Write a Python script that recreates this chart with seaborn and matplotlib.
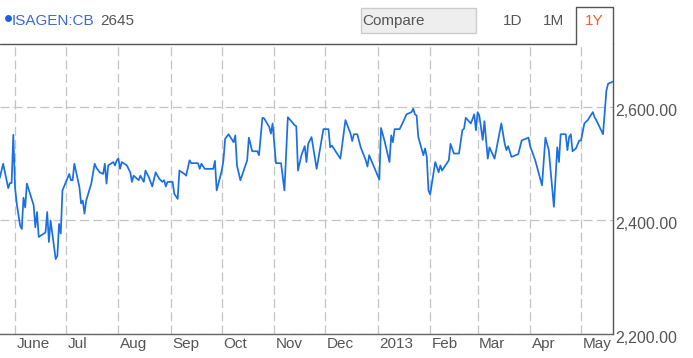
import matplotlib
matplotlib.use("Agg")
import matplotlib.pyplot as plt
from matplotlib.lines import Line2D
from matplotlib.patches import Rectangle
from matplotlib.transforms import ScaledTranslation
import seaborn as sns
import pandas as pd

# ---------------- data ----------------
dates = [
    "2012-05-23", "2012-05-25", "2012-05-28", "2012-05-29", "2012-05-30", "2012-05-31",
    "2012-06-01", "2012-06-02", "2012-06-04", "2012-06-05", "2012-06-06", "2012-06-07",
    "2012-06-08", "2012-06-12", "2012-06-13", "2012-06-14", "2012-06-15", "2012-06-19",
    "2012-06-20", "2012-06-21", "2012-06-22", "2012-06-23", "2012-06-25", "2012-06-26",
    "2012-06-27", "2012-06-28", "2012-06-29",
    "2012-07-03", "2012-07-04", "2012-07-05", "2012-07-06", "2012-07-09", "2012-07-10",
    "2012-07-11", "2012-07-12", "2012-07-13", "2012-07-16", "2012-07-18", "2012-07-19",
    "2012-07-21", "2012-07-23", "2012-07-24", "2012-07-25", "2012-07-26", "2012-07-29",
    "2012-07-30", "2012-07-31",
    "2012-08-01", "2012-08-02", "2012-08-03", "2012-08-06", "2012-08-08", "2012-08-09",
    "2012-08-10", "2012-08-13", "2012-08-14", "2012-08-16", "2012-08-17", "2012-08-19",
    "2012-08-21", "2012-08-23", "2012-08-25", "2012-08-27", "2012-08-28", "2012-08-29",
    "2012-08-30",
    "2012-09-02", "2012-09-03", "2012-09-05", "2012-09-06", "2012-09-09", "2012-09-10",
    "2012-09-12", "2012-09-13", "2012-09-17", "2012-09-18", "2012-09-19", "2012-09-21",
    "2012-09-26", "2012-09-27", "2012-09-28",
    "2012-10-01", "2012-10-02", "2012-10-03", "2012-10-05", "2012-10-08", "2012-10-09",
    "2012-10-10", "2012-10-12", "2012-10-16", "2012-10-17", "2012-10-19", "2012-10-22",
    "2012-10-23", "2012-10-25", "2012-10-26", "2012-10-29", "2012-10-30", "2012-10-31",
    "2012-11-02", "2012-11-05", "2012-11-07", "2012-11-09", "2012-11-13", "2012-11-14",
    "2012-11-15", "2012-11-17", "2012-11-19", "2012-11-20", "2012-11-21", "2012-11-23",
    "2012-11-26", "2012-11-30",
    "2012-12-03", "2012-12-04", "2012-12-05", "2012-12-10", "2012-12-13", "2012-12-16",
    "2012-12-17", "2012-12-18", "2012-12-20", "2012-12-22", "2012-12-25", "2012-12-26",
    "2012-12-27",
    "2013-01-02", "2013-01-03", "2013-01-05", "2013-01-08", "2013-01-09", "2013-01-10",
    "2013-01-11", "2013-01-14", "2013-01-17", "2013-01-18", "2013-01-21", "2013-01-22",
    "2013-01-23", "2013-01-24", "2013-01-25", "2013-01-28", "2013-01-29", "2013-01-30",
    "2013-01-31",
    "2013-02-01", "2013-02-04", "2013-02-06", "2013-02-07", "2013-02-08", "2013-02-12",
    "2013-02-13", "2013-02-15", "2013-02-18", "2013-02-20", "2013-02-21", "2013-02-22",
    "2013-02-25", "2013-02-27", "2013-02-28",
    "2013-03-01", "2013-03-02", "2013-03-04", "2013-03-05", "2013-03-07", "2013-03-08",
    "2013-03-11", "2013-03-15", "2013-03-17", "2013-03-18", "2013-03-19", "2013-03-21",
    "2013-03-25", "2013-03-27", "2013-03-31",
    "2013-04-01", "2013-04-04", "2013-04-08", "2013-04-10", "2013-04-12", "2013-04-15",
    "2013-04-17", "2013-04-18", "2013-04-19", "2013-04-22", "2013-04-23", "2013-04-24",
    "2013-04-25", "2013-04-26", "2013-04-28", "2013-04-30",
    "2013-05-01", "2013-05-03", "2013-05-05", "2013-05-08", "2013-05-09", "2013-05-10",
    "2013-05-14", "2013-05-16", "2013-05-17", "2013-05-20",
]
prices = [
    2475, 2500, 2457, 2466, 2466, 2551,
    2459, 2430, 2391, 2385, 2440, 2423,
    2465, 2427, 2388, 2415, 2371, 2379,
    2415, 2362, 2400, 2377, 2332, 2338,
    2394, 2377, 2453,
    2482, 2471, 2471, 2500, 2459, 2430,
    2435, 2412, 2435, 2465, 2500, 2493,
    2485, 2482, 2500, 2465, 2497, 2503,
    2497, 2506,
    2509, 2491, 2503, 2497, 2485, 2468,
    2479, 2471, 2479, 2468, 2488, 2476,
    2460, 2485, 2474, 2468, 2471, 2460,
    2468,
    2468, 2447, 2438, 2488, 2482, 2479,
    2506, 2501, 2501, 2491, 2500, 2491,
    2491, 2505, 2453,
    2488, 2506, 2544, 2552, 2538, 2550,
    2497, 2471, 2506, 2546, 2522, 2522,
    2515, 2581, 2580, 2565, 2553, 2571,
    2501, 2501, 2453, 2582, 2568, 2566,
    2488, 2515, 2531, 2503, 2535, 2547,
    2491, 2561,
    2561, 2529, 2532, 2509, 2577, 2553,
    2540, 2552, 2552, 2529, 2506, 2495,
    2515,
    2472, 2563, 2541, 2503, 2550, 2538,
    2561, 2561, 2580, 2587, 2591, 2597,
    2587, 2585, 2547, 2515, 2527, 2512,
    2453,
    2446, 2503, 2485, 2497, 2488, 2506,
    2535, 2518, 2518, 2559, 2562, 2581,
    2571, 2587, 2559,
    2591, 2585, 2542, 2575, 2509, 2529,
    2509, 2571, 2535, 2524, 2531, 2512,
    2517, 2541, 2546,
    2531, 2506, 2462, 2546, 2524, 2424,
    2529, 2503, 2552, 2552, 2524, 2547,
    2552, 2522, 2527, 2541,
    2541, 2571, 2577, 2591, 2582, 2577,
    2552, 2629, 2641, 2645,
]
month_starts = ["2012-06-01", "2012-07-01", "2012-08-01", "2012-09-01", "2012-10-01",
                "2012-11-01", "2012-12-01", "2013-01-01", "2013-02-01", "2013-03-01",
                "2013-04-01", "2013-05-01"]
month_labels = ["June", "Jul", "Aug", "Sep", "Oct", "Nov", "Dec", "2013", "Feb", "Mar",
                "Apr", "May"]
y_ticks = [2200, 2400, 2600]
y_tick_labels = ["2,200.00", "2,400.00", "2,600.00"]
symbol = "ISAGEN:CB"
last_price = "2645"
compare_label = "Compare"
range_buttons = ["1D", "1M", "1Y"]

# ---------------- style ----------------
sns.set_theme(style="white")
plt.rcParams['font.family'] = ['Liberation Sans', 'DejaVu Sans']

W, H = 693, 358
fig = plt.figure(figsize=(W / 100, H / 100), dpi=100)
fig.patch.set_facecolor("white")


def fx(x):
    return x / W


def fy(y):
    return 1 - y / H


ax_left, ax_right, ax_top, ax_bottom = 0, 613.3, 44, 334
ax = fig.add_axes([fx(ax_left), fy(ax_bottom), (ax_right - ax_left) / W, (ax_bottom - ax_top) / H])
ax.set_facecolor("white")

df = pd.DataFrame({"date": pd.to_datetime(dates), "price": prices})
sns.lineplot(data=df, x="date", y="price", ax=ax, color="#1a6fe3", linewidth=1.25, zorder=3)

ax.set_xlim(pd.Timestamp("2012-05-23 03:27"), pd.Timestamp("2013-05-20 01:40"))
ax.set_ylim(2200, 2711)

ax.set_xticks(pd.to_datetime(month_starts))
ax.set_xticklabels(month_labels)
ax.tick_params(axis='x', length=0, pad=2.2, labelsize=11, labelcolor='#555555')
for lab in ax.get_xticklabels():
    lab.set_horizontalalignment('left')
    lab.set_transform(lab.get_transform() + ScaledTranslation(1.5 / 100, 0, fig.dpi_scale_trans))

ax.yaxis.tick_right()
ax.set_yticks(y_ticks)
ax.set_yticklabels(y_tick_labels)
ax.tick_params(axis='y', length=0, pad=1.5, labelsize=11.5, labelcolor='#555555')
for lab in ax.get_yticklabels():
    lab.set_transform(lab.get_transform() + ScaledTranslation(0, -3 / 100, fig.dpi_scale_trans))

ax.set_xlabel("")
ax.set_ylabel("")
ax.grid(True, color='#c4c4c4', linestyle=(0, (7.2, 3.4)), linewidth=0.9)
ax.set_axisbelow(True)

for s in ["left", "top"]:
    ax.spines[s].set_visible(False)
ax.spines["right"].set_color("#555555")
ax.spines["right"].set_linewidth(1.0)
ax.spines["bottom"].set_color("#666666")
ax.spines["bottom"].set_linewidth(1.0)

# top frame line and the selected tab
tab_l, tab_top = 575.7, 7
fig.add_artist(Line2D([fx(0), fx(tab_l)], [fy(ax_top), fy(ax_top)], color="#555555", linewidth=1.0))
fig.add_artist(Line2D([fx(tab_l), fx(tab_l), fx(ax_right), fx(ax_right)],
                      [fy(ax_top), fy(tab_top), fy(tab_top), fy(ax_top)],
                      color="#555555", linewidth=1.0))

# header
fig.add_artist(Line2D([fx(8)], [fy(18.3)], marker="o", markersize=5.0, color="#1a5fe6",
                      markeredgewidth=0, linestyle="none"))
fig.text(fx(11.5), fy(21), symbol, color="#3b6ad6", fontsize=11.0, va="center", ha="left")
fig.text(fx(100.5), fy(21), last_price, color="#555555", fontsize=11, va="center", ha="left")

# compare box
fig.add_artist(Rectangle((fx(361), fy(33.3)), (475.7 - 361) / W, 25 / H,
                         facecolor="#eeeeee", edgecolor="#cccccc", linewidth=1.0,
                         transform=fig.transFigure))
fig.text(fx(362.5), fy(21), compare_label, color="#555555", fontsize=11, va="center", ha="left")

# range buttons
for label, cx, col in zip(range_buttons, [513, 553.5, 594], ["#555555", "#555555", "#e8642c"]):
    fig.text(fx(cx), fy(21), label, color=col, fontsize=11, va="center", ha="center")

fig.savefig("out.png", dpi=100, facecolor="white")
